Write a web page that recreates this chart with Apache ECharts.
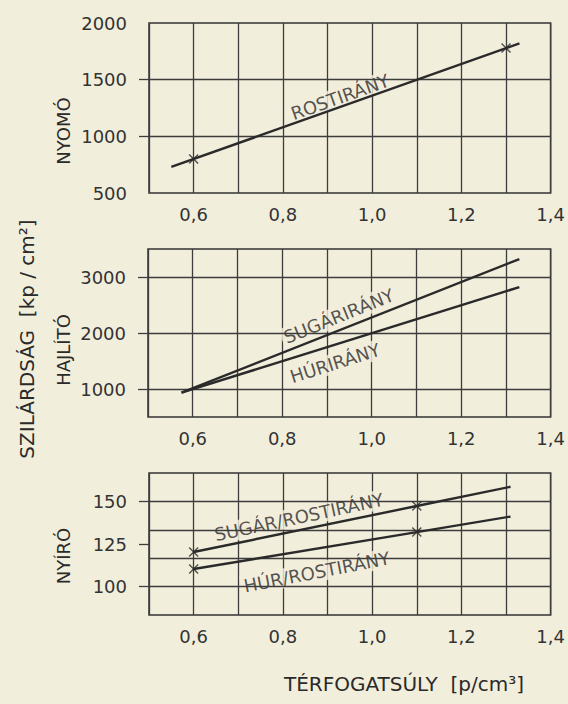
<!DOCTYPE html>
<html><head><meta charset="utf-8">
<script src="https://cdn.jsdelivr.net/npm/echarts@6/dist/echarts.min.js"></script>
<style>html,body{margin:0;padding:0;background:#f2eedc}#c{width:568px;height:704px}</style>
</head><body><div id="c"></div>
<script>
// ---- data ----
const xTickLabels = [0.6, 0.8, 1.0, 1.2, 1.4];

// NYOMÓ (compressive)
const nyomoLabels = [500, 1000, 1500, 2000];
const nyomoTicks = [1000, 1500];
const nyomoGrid = [1000, 1500];
const nyomoRostLine = [[0.55, 730], [1.33, 1820]];
const nyomoRostPoints = [[0.6, 800], [1.3, 1780]];

// HAJLÍTÓ (bending)
const hajlitoLabels = [1000, 2000, 3000];
const hajlitoGrid = [1000, 2000, 3000];
const hajlitoSugarLine = [[0.575, 935], [1.33, 3320]];
const hajlitoHurLine = [[0.575, 935], [1.33, 2820]];

// NYÍRÓ (shear)
const nyiroLabels = [100, 125, 150];
const nyiroGrid = [100, 116.67, 133.33, 150];
const nyiroSugarLine = [[0.6, 120.3], [1.1, 147.3], [1.31, 158.6]];
const nyiroSugarPoints = [[0.6, 120.3], [1.1, 147.3]];
const nyiroHurLine = [[0.6, 110.3], [1.1, 132.0], [1.31, 141.1]];
const nyiroHurPoints = [[0.6, 110.3], [1.1, 132.0]];

// in-plot annotations [x, y, text, angle]
const nyomoNotes = [[0.928, 1347, 'ROSTIRÁNY', 19.5]];
const hajlitoNotes = [[0.9265, 2304, 'SUGÁRIRÁNY', 22], [0.918, 1464, 'HÚRIRÁNY', 17.5]];
const nyiroNotes = [[0.836, 140.8, 'SUGÁR/ROSTIRÁNY', 12], [0.876, 108.6, 'HÚR/ROSTIRÁNY', 11]];

// ---- style ----
const BG = '#f2eedc';
const INK = '#2a2a2a';
const GRIDC = '#3c3c3c';
const FONT = 'DejaVu Sans';
const XSYM = 'path://M0,1 L1,0 L5,4 L9,0 L10,1 L6,5 L10,9 L9,10 L5,6 L1,10 L0,9 L4,5 Z';

const grids = [
  {left: 149, right: 17, top: 23, height: 170},
  {left: 148, right: 16, top: 249, height: 168},
  {left: 149, right: 16, top: 473, height: 142}
].map(g => Object.assign(g, {show: true, borderColor: '#333', borderWidth: 1.5, backgroundColor: 'transparent'}));

function xAxis(i) {
  return {
    gridIndex: i, type: 'value', min: 0.5, max: 1.4, interval: 0.1,
    axisLine: {show: false}, axisTick: {show: false},
    splitLine: {show: true, lineStyle: {color: GRIDC, width: 1.3}},
    axisLabel: {customValues: xTickLabels, margin: 12, fontSize: 18, fontFamily: FONT, color: '#333',
      formatter: v => Number(v).toFixed(1).replace('.', ',')}
  };
}
function yAxis(i, min, max, labels, ticks) {
  return {
    gridIndex: i, type: 'value', min: min, max: max,
    axisLine: {show: false},
    axisTick: {show: true, customValues: ticks, length: 10, lineStyle: {color: GRIDC, width: 1.3}},
    splitLine: {show: false},
    axisLabel: {customValues: labels, margin: 22, fontSize: 18, fontFamily: FONT, color: '#333',
      formatter: v => String(Math.round(v))}
  };
}
function gridLines(i, vals) {
  return {type: 'line', xAxisIndex: i, yAxisIndex: i, data: [], z: 1, silent: true,
    markLine: {silent: true, symbol: 'none', label: {show: false}, animation: false,
      lineStyle: {type: 'solid', color: GRIDC, width: 1.3},
      data: vals.map(v => ({yAxis: v}))}};
}
function line(i, d) {
  return {type: 'line', xAxisIndex: i, yAxisIndex: i, data: d, symbol: 'none', z: 5,
    lineStyle: {color: INK, width: 2.4}, silent: true};
}
function marks(i, d) {
  return {type: 'scatter', xAxisIndex: i, yAxisIndex: i, data: d, symbol: XSYM, symbolSize: 10, z: 6,
    itemStyle: {color: INK}, silent: true};
}
function notes(i, arr) {
  return {type: 'scatter', xAxisIndex: i, yAxisIndex: i, symbolSize: 0, z: 3, silent: true,
    data: arr.map(n => ({value: [n[0], n[1]], label: {show: true, formatter: n[2], rotate: n[3]}})),
    label: {show: true, position: 'inside', fontSize: 18, fontFamily: FONT, color: '#2a2a2a',
      backgroundColor: BG, padding: [1, 3]}};
}
function title(x, y, text, size) {
  return {type: 'text', x: x, y: y, rotation: Math.PI / 2,
    style: {text: text, fontSize: size || 18, fontFamily: FONT, fill: '#2a2a2a', align: 'center', verticalAlign: 'middle'}};
}

const chart = echarts.init(document.getElementById('c'), null, {renderer: 'svg'});
chart.setOption({
  backgroundColor: BG,
  animation: false,
  grid: grids,
  xAxis: [xAxis(0), xAxis(1), xAxis(2)],
  yAxis: [
    yAxis(0, 500, 2000, nyomoLabels, nyomoTicks),
    yAxis(1, 500, 3500, hajlitoLabels, hajlitoGrid),
    yAxis(2, 250 / 3, 500 / 3, nyiroLabels, nyiroLabels)
  ],
  series: [
    gridLines(0, nyomoGrid), gridLines(1, hajlitoGrid), gridLines(2, nyiroGrid),
    notes(0, nyomoNotes), notes(1, hajlitoNotes), notes(2, nyiroNotes),
    line(0, nyomoRostLine), marks(0, nyomoRostPoints),
    line(1, hajlitoSugarLine), line(1, hajlitoHurLine),
    line(2, nyiroSugarLine), marks(2, nyiroSugarPoints),
    line(2, nyiroHurLine), marks(2, nyiroHurPoints)
  ],
  graphic: [
    title(63, 131, 'NYOMÓ'),
    title(63, 350, 'HAJLÍTÓ'),
    title(63, 556, 'NYÍRÓ'),
    title(27, 339, 'SZILÁRDSÁG  [kp / cm²]', 20),
    {type: 'text', x: 404, y: 684,
      style: {text: 'TÉRFOGATSÚLY  [p/cm³]', fontSize: 20, fontFamily: FONT, fill: '#2a2a2a', align: 'center', verticalAlign: 'middle'}}
  ]
});
</script></body></html>
